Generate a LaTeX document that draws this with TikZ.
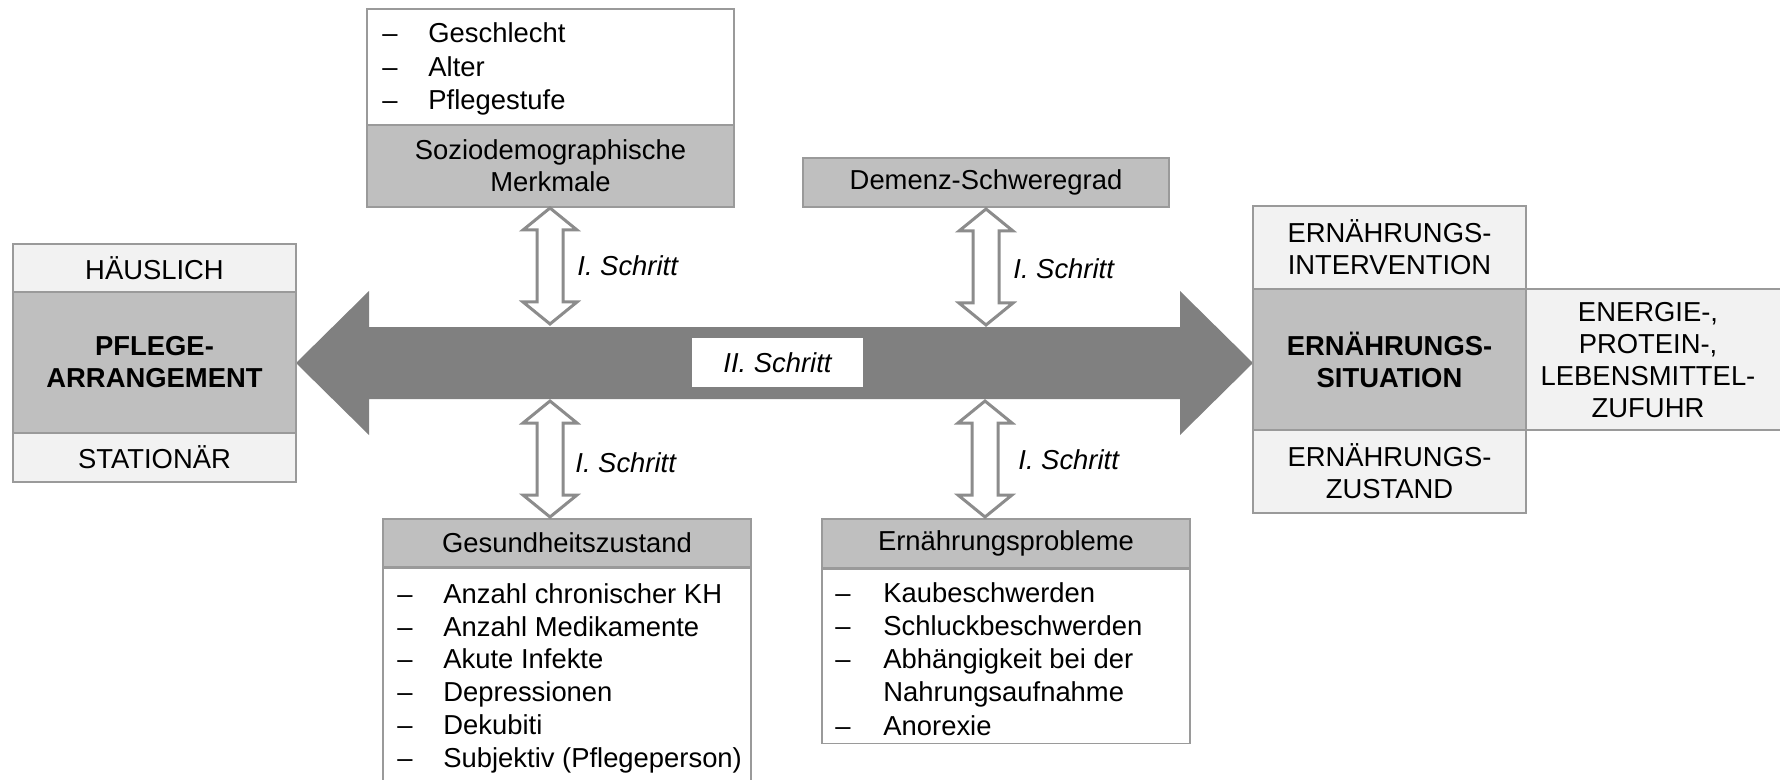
\documentclass[tikz,border=0pt]{standalone}
\usepackage{fontspec}
\setmainfont{Liberation Sans}
\newdimen\pxu \pxu=0.5pt
\definecolor{bordc}{HTML}{9A9A9A}
\definecolor{darkf}{HTML}{BFBFBF}
\definecolor{lightf}{HTML}{F2F2F2}
\definecolor{arrowc}{HTML}{808080}
\definecolor{hollowc}{HTML}{8C8C8C}
\newcommand\fs{\fontsize{13.7}{16}\selectfont}
\newcommand\dblarrow[3]{%
  \draw[hollowst] (#1,#2) -- (#1+27,#2+22) -- (#1+13,#2+22) -- (#1+13,#3-22) -- (#1+27,#3-22) -- (#1,#3) -- (#1-27,#3-22) -- (#1-13,#3-22) -- (#1-13,#2+22) -- (#1-27,#2+22) -- cycle;}
\tikzset{
  bx/.style={draw=bordc, line width=0.75pt, inner sep=0pt, align=center, font=\fs},
  darkbox/.style={bx, fill=darkf},
  lightbox/.style={bx, fill=lightf},
  whitebox/.style={bx, fill=white},
  txt/.style={inner sep=0pt, font=\fs, align=center},
  itm/.style={inner sep=0pt, font=\fs, anchor=base west},
  lbl/.style={inner sep=0pt, font=\fs\itshape, anchor=base west},
  hollowst/.style={draw=hollowc, line width=1.5pt, fill=white, line join=miter},
}
\begin{document}
\begin{tikzpicture}[x=0.5pt,y=-0.5pt]
\useasboundingbox (0,0) rectangle (1780,780);
\clip (0,0) rectangle (1780,780);
% big double arrow
\fill[arrowc] (296,363) -- (369,291) -- (369,327) -- (1180,327) -- (1180,291) -- (1253,363) -- (1180,435) -- (1180,399) -- (369,399) -- (369,435) -- cycle;
\node[fill=white, minimum width=171\pxu, minimum height=49\pxu, inner sep=0pt, font=\fs\itshape] (ii) at (777.5,362.5) {II. Schritt};
% left block
\node[lightbox, minimum width=283\pxu, minimum height=48\pxu] (hl) at (154.5,268) {HÄUSLICH};
\node[darkbox, minimum width=283\pxu, minimum height=141\pxu, font=\fs\bfseries] (pa) at (154.5,362.5) {PFLEGE-\\ARRANGEMENT};
\node[lightbox, minimum width=283\pxu, minimum height=49\pxu] (st) at (154.5,457.5) {STATIONÄR};
% right block
\node[lightbox, minimum width=273\pxu, minimum height=83\pxu] (ei) at (1389.5,247.5) {ERNÄHRUNGS-\\INTERVENTION};
\node[darkbox, minimum width=273\pxu, minimum height=141\pxu, font=\fs\bfseries] (es) at (1389.5,359.5) {ERNÄHRUNGS-\\SITUATION};
\node[lightbox, minimum width=273\pxu, minimum height=83\pxu] (ez) at (1389.5,471.5) {ERNÄHRUNGS-\\ZUSTAND};
\node[lightbox, minimum width=264\pxu, minimum height=141\pxu] (ep) at (1658,359.5) {};
\node[txt] (ept) at (1648,360) {ENERGIE-,\\PROTEIN-,\\LEBENSMITTEL-\\ZUFUHR};
% Soziodemographische
\node[whitebox, minimum width=367\pxu, minimum height=116\pxu] (sl) at (550.5,67) {};
\node[darkbox, minimum width=367\pxu, minimum height=82\pxu] (sh) at (550.5,166) {Soziodemographische\\Merkmale};
\foreach \t [count=\i] in {Geschlecht,Alter,Pflegestufe}{
  \node[itm] (sd\i) at (382,{43+33.5*(\i-1)}) {–};
  \node[itm] (s\i) at (428,{43+33.5*(\i-1)}) {\t};
}
% Demenz
\node[darkbox, minimum width=366\pxu, minimum height=49\pxu] (dm) at (986,182.5) {Demenz-Schweregrad};
% Gesundheitszustand
\node[darkbox, minimum width=368\pxu, minimum height=48\pxu] (gh) at (567,543) {Gesundheitszustand};
\node[whitebox, minimum width=368\pxu, minimum height=233\pxu, anchor=north] (gl) at (gh.south) {};
\foreach \t [count=\i] in {Anzahl chronischer KH,Anzahl Medikamente,Akute Infekte,Depressionen,Dekubiti,Subjektiv (Pflegeperson)}{
  \node[itm] (gd\i) at (397,{603.5+32.7*(\i-1)}) {–};
  \node[itm] (g\i) at (443,{603.5+32.7*(\i-1)}) {\t};
}
% Ernaehrungsprobleme
\node[darkbox, minimum width=368\pxu, minimum height=49\pxu] (eh) at (1006,543.5) {Ernährungsprobleme};
\node[whitebox, minimum width=368\pxu, minimum height=174\pxu, anchor=north] (el) at (eh.south) {};
\node[itm] (ed1) at (835,602) {–};
\node[itm] (e1) at (883,602) {Kaubeschwerden};
\node[itm] (ed2) at (835,635.3) {–};
\node[itm] (e2) at (883,635.3) {Schluckbeschwerden};
\node[itm] (ed3) at (835,668.6) {–};
\node[itm] (e3) at (883,668.6) {Abhängigkeit bei der};
\node[itm] (e3b) at (883,701.9) {Nahrungsaufnahme};
\node[itm] (ed4) at (835,735.2) {–};
\node[itm] (e4) at (883,735.2) {Anorexie};
% hollow double arrows
\dblarrow{550}{208}{324}
\dblarrow{550}{401}{517}
\dblarrow{986}{209}{325}
\dblarrow{985}{401}{517}
\node[lbl] (l1) at (577,276) {I. Schritt};
\node[lbl] (l2) at (575,472) {I. Schritt};
\node[lbl] (l3) at (1013,279) {I. Schritt};
\node[lbl] (l4) at (1018,469) {I. Schritt};
\end{tikzpicture}
\end{document}
